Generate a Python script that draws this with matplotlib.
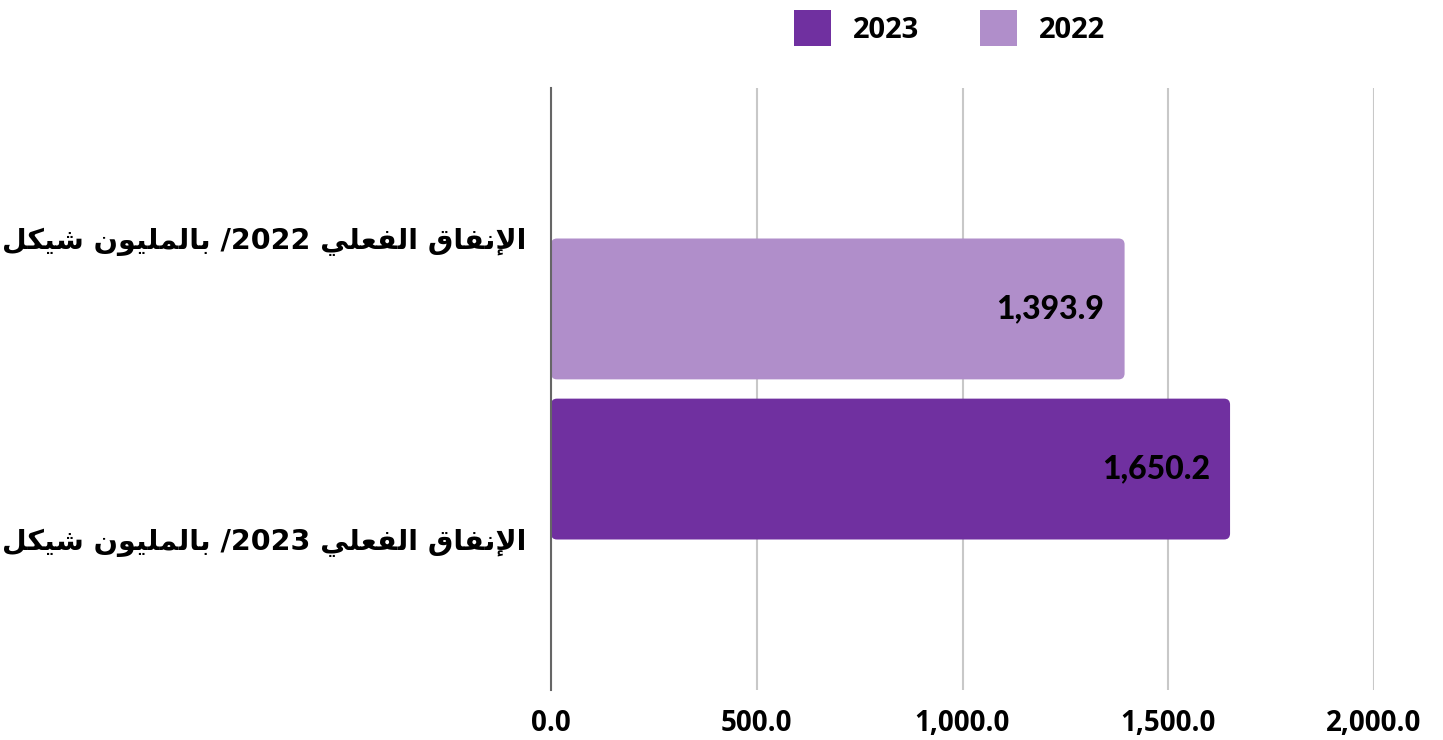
import matplotlib
matplotlib.use("Agg")
import matplotlib.pyplot as plt
from matplotlib.patches import FancyBboxPatch, Patch
from matplotlib.ticker import FuncFormatter
import numpy as np

# data
years = ["2022", "2023"]
categories = ["الإنفاق الفعلي " + y + "/ بالمليون شيكل" for y in years]
series_names = ["2023", "2022"]
values_2023 = [np.nan, 1650.2]
values_2022 = [1393.9, np.nan]
x_ticks = [0, 500, 1000, 1500, 2000]
colors = {"2023": "#7030A0", "2022": "#B08ECA"}

# simple arabic shaping (matplotlib has no shaping / bidi)
# letter: (isolated, final, initial, medial); None = does not join to the left
FORMS = {
    "ا": ("\uFE8D", "\uFE8E", None, None),
    "إ": ("\uFE87", "\uFE88", None, None),
    "و": ("\uFEED", "\uFEEE", None, None),
    "ل": ("\uFEDD", "\uFEDE", "\uFEDF", "\uFEE0"),
    "ن": ("\uFEE5", "\uFEE6", "\uFEE7", "\uFEE8"),
    "ف": ("\uFED1", "\uFED2", "\uFED3", "\uFED4"),
    "ق": ("\uFED5", "\uFED6", "\uFED7", "\uFED8"),
    "ع": ("\uFEC9", "\uFECA", "\uFECB", "\uFECC"),
    "ي": ("\uFEF1", "\uFEF2", "\uFEF3", "\uFEF4"),
    "ب": ("\uFE8F", "\uFE90", "\uFE91", "\uFE92"),
    "م": ("\uFEE1", "\uFEE2", "\uFEE3", "\uFEE4"),
    "ش": ("\uFEB5", "\uFEB6", "\uFEB7", "\uFEB8"),
    "ك": ("\uFED9", "\uFEDA", "\uFEDB", "\uFEDC"),
}
LAM_ALEF = {"ا": ("\uFEFB", "\uFEFC"), "إ": ("\uFEF9", "\uFEFA")}


def shape_word(w):
    # merge lam-alef first
    chars = []
    i = 0
    while i < len(w):
        if w[i] == "ل" and i + 1 < len(w) and w[i + 1] in LAM_ALEF:
            chars.append(("LA", w[i + 1]))
            i += 2
        else:
            chars.append(("C", w[i]))
            i += 1
    out = []
    for k, (kind, c) in enumerate(chars):
        prev_joins = False
        if k > 0:
            pk, pc = chars[k - 1]
            prev_joins = pk == "C" and FORMS[pc][2] is not None
        if kind == "LA":
            out.append(LAM_ALEF[c][1] if prev_joins else LAM_ALEF[c][0])
            continue
        f = FORMS[c]
        next_exists = k + 1 < len(chars)
        joins_next = next_exists and f[2] is not None
        if prev_joins and joins_next:
            out.append(f[3])
        elif prev_joins:
            out.append(f[1])
        elif joins_next:
            out.append(f[2])
        else:
            out.append(f[0])
    return "".join(out)


def visual(text):
    toks = []
    for w in text.split(" ")[::-1]:
        if any(ch in FORMS for ch in w):
            toks.append(shape_word(w)[::-1])
        else:
            runs, cur = [], ""
            for ch in w:
                if cur and (ch.isdigit() != cur[-1].isdigit()):
                    runs.append(cur)
                    cur = ""
                cur += ch
            runs.append(cur)
            toks.append("".join(runs[::-1]))
    return " ".join(toks)


fig = plt.figure(figsize=(14.43, 7.40), dpi=100)
ax = fig.add_axes([551 / 1443, 1 - 690 / 740, 823 / 1443, 602 / 740])

y = np.arange(len(categories))
h = 0.468
bars23 = ax.barh(y - h / 2, values_2023, height=h, color=colors["2023"])
bars22 = ax.barh(y + h / 2, values_2022, height=h, color=colors["2022"])

ax.set_xlim(0, 2000)
ax.set_ylim(len(categories) - 0.5, -0.5)

# rounded corners
px_x = ax.get_position().width * fig.get_figwidth() * fig.dpi / 2000
px_y = ax.get_position().height * fig.get_figheight() * fig.dpi / len(categories)
r = 6 / px_x
for bars in (bars23, bars22):
    for b in bars:
        w = b.get_width()
        if not np.isfinite(w):
            continue
        p = FancyBboxPatch((b.get_x(), b.get_y()), w, b.get_height(),
                           boxstyle="round,pad=0,rounding_size=%f" % r,
                           mutation_aspect=px_x / px_y,
                           facecolor=b.get_facecolor(), edgecolor="none", zorder=2)
        ax.add_patch(p)
        b.remove()
        ax.annotate("{:,.1f}".format(w), (w, b.get_y() + b.get_height() / 2),
                    xytext=(-14.5, 0), textcoords="offset points",
                    ha="right", va="center", fontsize=23, fontweight="black",
                    family="Lato", color="black", zorder=3)

ax.set_xticks(x_ticks)
ax.xaxis.set_major_formatter(FuncFormatter(lambda v, p: "{:,.1f}".format(v)))
ax.grid(axis="x", color="#c8c8c8", linewidth=1.5, zorder=0)
ax.set_axisbelow(True)
for s in ["top", "right", "bottom"]:
    ax.spines[s].set_visible(False)
ax.spines["left"].set_color("#666666")
ax.spines["left"].set_linewidth(1.5)
ax.spines["left"].set_zorder(4)

ax.set_yticks(y)
ax.set_yticklabels([visual(c) for c in categories])
ax.tick_params(axis="y", length=0, pad=18)
ax.tick_params(axis="x", length=0, pad=14)
for t in ax.get_yticklabels():
    t.set_family(["DejaVu Sans"])
    t.set_fontweight("bold")
    t.set_fontsize(20.5)
for t in ax.get_xticklabels():
    t.set_family(["Open Sans"])
    t.set_fontweight("bold")
    t.set_fontsize(20)

handles = [Patch(facecolor=colors[n], edgecolor="none") for n in series_names]
leg = fig.legend(handles, series_names, loc="center left",
                 bbox_to_anchor=(794 / 1443, 1 - 28 / 740), ncol=2, frameon=False,
                 prop={"family": "Open Sans", "weight": "bold", "size": 21},
                 handlelength=1.26, handleheight=1.55, handletextpad=0.75,
                 columnspacing=2.1, borderpad=0, borderaxespad=0)

fig.savefig("out.png", dpi=100)
